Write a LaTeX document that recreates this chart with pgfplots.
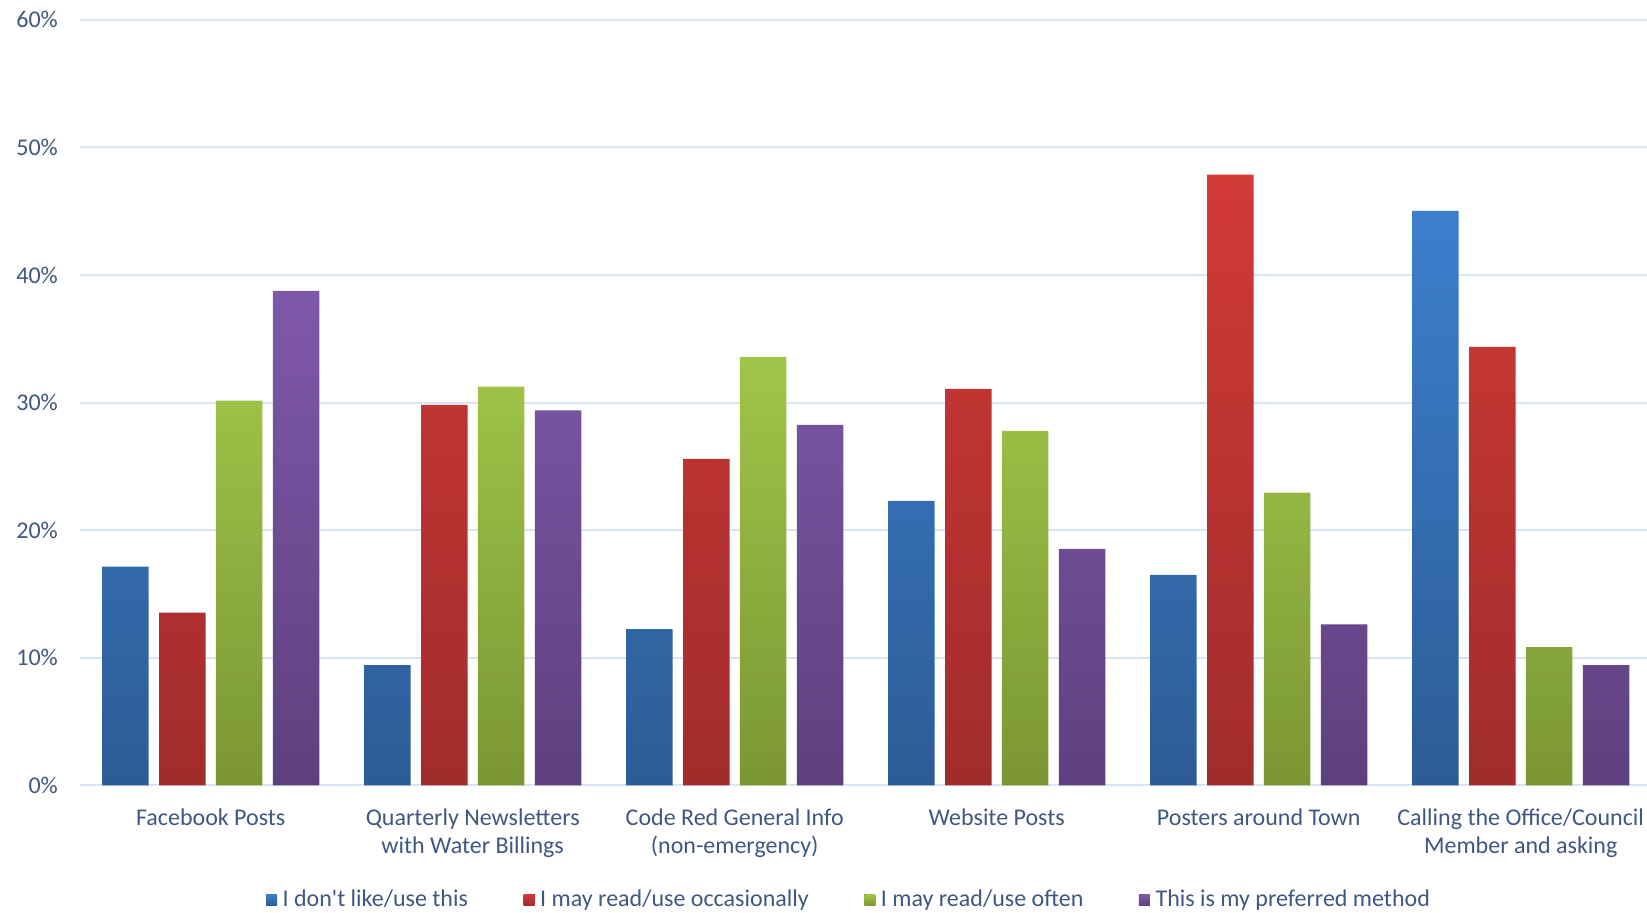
\documentclass[border=0pt]{standalone}
\usepackage{fontspec}
\setmainfont{Carlito}[Ligatures=TeXOff]
\usepackage{pgfplots}
\pgfplotsset{compat=1.18}
\definecolor{txt}{RGB}{62,88,130}
\definecolor{gridc}{RGB}{218,229,243}
\definecolor{bT}{RGB}{60,127,205}\definecolor{bB}{RGB}{44,92,150}
\definecolor{rT}{RGB}{210,58,54}\definecolor{rB}{RGB}{160,44,44}
\definecolor{gT}{RGB}{160,198,72}\definecolor{gB}{RGB}{122,150,52}
\definecolor{pT}{RGB}{126,89,170}\definecolor{pB}{RGB}{94,64,126}
\begin{document}
\begin{tikzpicture}[font=\fontsize{12}{14.2}\selectfont]
\begin{axis}[
  at={(39.85pt,63.75pt)}, anchor=south west,
  width=783.65pt, height=382.9pt, scale only axis,
  ybar=5.2pt, bar width=23.25pt,
  xmin=-0.5, xmax=5.482, ymin=0, ymax=60,
  axis line style={draw=none},
  major tick length=0pt,
  ymajorgrids, xmajorgrids=false, grid style={color=gridc, line width=1pt},
  ytick={0,10,20,30,40,50,60},
  yticklabels={0\%,10\%,20\%,30\%,40\%,50\%,60\%},
  yticklabel style={xshift=-7.4pt, text=txt},
  xtick={0,1,2,3,4,5},
  xticklabels={Facebook Posts, Quarterly Newsletters\\with Water Billings, Code Red General Info\\(non-emergency), Website Posts, Posters around Town, Calling the Office/Council\\Member and asking},
  xticklabel style={align=center, text=txt, yshift=-8pt},
  /pgf/number format/assume math mode=true,
  legend columns=4,
  legend style={draw=none, fill=none, at={(rel axis cs:0.1148,-0.1495)}, anchor=west,
    nodes={inner sep=0pt, text=txt},
    /tikz/every odd column/.append style={column sep=2.8pt},
    /tikz/every even column/.append style={column sep=27.8pt}},
  legend image code/.code={\fill[#1] (0pt,-2.75pt) rectangle (5.5pt,2.75pt);},
]
\addplot[draw=none, top color=bT, bottom color=bB] coordinates {(0,17.15) (1,9.44) (2,12.26) (3,22.3) (4,16.5) (5,45.02)};
\addplot[draw=none, top color=rT, bottom color=rB] coordinates {(0,13.54) (1,29.82) (2,25.59) (3,31.07) (4,47.87) (5,34.36)};
\addplot[draw=none, top color=gT, bottom color=gB] coordinates {(0,30.16) (1,31.25) (2,33.58) (3,27.78) (4,22.95) (5,10.85)};
\addplot[draw=none, top color=pT, bottom color=pB] coordinates {(0,38.75) (1,29.4) (2,28.25) (3,18.53) (4,12.63) (5,9.44)};
\legend{I don't like/use this, I may read/use occasionally, I may read/use often, This is my preferred method}
\end{axis}
\pgfresetboundingbox
\path[use as bounding box] (0,0) rectangle (823.5pt,456.5pt);
\end{tikzpicture}
\end{document}
